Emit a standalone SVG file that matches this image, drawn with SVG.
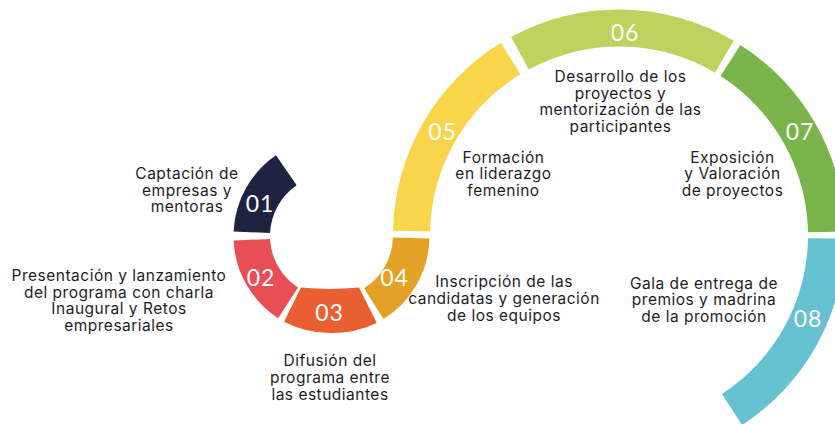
<svg xmlns="http://www.w3.org/2000/svg" width="835" height="424" viewBox="0 0 835 424">
<style>
.num{font-family:Lato,"Open Sans",sans-serif;font-size:23px;fill:#ffffff;text-anchor:middle;letter-spacing:1px}
.lbl{font-family:Inter,"Noto Sans",sans-serif;font-size:15.5px;fill:#1d1d1f;text-anchor:middle;letter-spacing:0.5px}
</style>
<rect width="835" height="424" fill="#ffffff"/>
<g id="connectors"></g>
<g id="n01">
<path fill="#1f2342" d="M233.61,231.38 A98,98 0 0 1 275.99,155.24 L296.67,185.32 A61.5,61.5 0 0 0 270.07,233.1 Z"/>
<text class="num" x="260" y="212">01</text>
<text class="lbl"><tspan x="187" y="179">Captación de</tspan><tspan x="187" y="195.5">empresas y</tspan><tspan x="187" y="212">mentoras</tspan></text>
</g>
<g id="n02">
<path fill="#e94e55" d="M233.61,240.62 A98,98 0 0 0 278.13,318.19 L298,287.58 A61.5,61.5 0 0 1 270.07,238.9 Z"/>
<text class="num" x="261" y="286">02</text>
<text class="lbl"><tspan x="119" y="281">Presentación y lanzamiento</tspan><tspan x="119" y="297.5">del programa con charla</tspan><tspan x="119" y="314">Inaugural y Retos</tspan><tspan x="119" y="330.5">empresariales</tspan></text>
</g>
<g id="n03">
<path fill="#ea5f32" d="M284,321.7 A105,105 0 0 0 376.75,322.9 L359,287.5 A300,300 0 0 1 301,287.5 Z"/>
<text class="num" x="329.5" y="321">03</text>
<text class="lbl"><tspan x="330" y="366">Difusión del</tspan><tspan x="330" y="383">programa entre</tspan><tspan x="330" y="400">las estudiantes</tspan></text>
</g>
<g id="n04">
<path fill="#e3a126" d="M383.43,319.11 A98,98 0 0 0 429.47,238.57 L392.98,237.61 A61.5,61.5 0 0 1 364.09,288.16 Z"/>
<text class="num" x="394.5" y="286">04</text>
<text class="lbl"><tspan x="504" y="287">Inscripción de las</tspan><tspan x="504" y="304">candidatas y generación</tspan><tspan x="504" y="321">de los equipos</tspan></text>
</g>
<g id="n05">
<path fill="#f9d54c" d="M393.05,230.77 A226,226 0 0 1 500.91,42.8 L520.25,74.35 A189,189 0 0 0 430.04,231.54 Z"/>
<text class="num" x="442.5" y="139.8">05</text>
<text class="lbl"><tspan x="503.5" y="162.5">Formación</tspan><tspan x="503.5" y="179">en liderazgo</tspan><tspan x="503.5" y="195.5">femenino</tspan></text>
</g>
<g id="n06">
<path fill="#c0d25e" d="M511.16,36.89 A226,226 0 0 1 733.7,40.77 L714.93,72.65 A189,189 0 0 0 528.82,69.4 Z"/>
<text class="num" x="625" y="40.5">06</text>
<text class="lbl"><tspan x="620.5" y="82">Desarrollo de los</tspan><tspan x="620.5" y="98.5">proyectos y</tspan><tspan x="620.5" y="115">mentorización de las</tspan><tspan x="620.5" y="131.5">participantes</tspan></text>
</g>
<g id="n07">
<path fill="#79b54a" d="M740.43,44.89 A226,226 0 0 1 844.97,231.56 L807.97,232.2 A189,189 0 0 0 720.55,76.1 Z"/>
<text class="num" x="800" y="139.8">07</text>
<text class="lbl"><tspan x="732.5" y="162.5">Exposición</tspan><tspan x="732.5" y="179">y Valoración</tspan><tspan x="732.5" y="195.5">de proyectos</tspan></text>
</g>
<g id="n08">
<path fill="#66c1d1" d="M844.98,238.66 A226,226 0 0 1 742.09,425.04 L721.94,394.01 A189,189 0 0 0 807.98,238.14 Z"/>
<text class="num" x="808" y="326.5">08</text>
<text class="lbl"><tspan x="704" y="288.5">Gala de entrega de</tspan><tspan x="704" y="305">premios y madrina</tspan><tspan x="704" y="321.5">de la promoción</tspan></text>
</g>
</svg>
